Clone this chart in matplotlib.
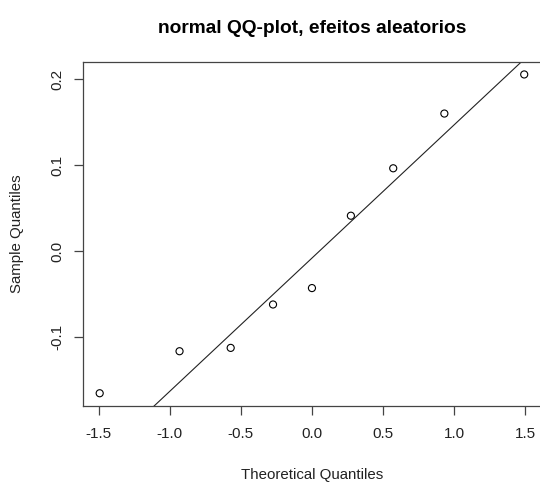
import matplotlib
matplotlib.use('Agg')
import matplotlib.pyplot as plt
import numpy as np
from statistics import NormalDist

plt.rcParams['font.family'] = ['Liberation Sans', 'DejaVu Sans']
plt.rcParams['axes.unicode_minus'] = False

# theoretical normal quantiles (n = 9) and the sorted random effects
theoretical = [-1.494, -0.932, -0.572, -0.274, 0.0, 0.274, 0.572, 0.932, 1.494]
sample = [-0.1655, -0.1166, -0.1127, -0.0622, -0.0431, 0.0411, 0.0963, 0.1600, 0.2055]

xticks = [-1.5, -1.0, -0.5, 0.0, 0.5, 1.0, 1.5]
yticks = [-0.1, 0.0, 0.1, 0.2]

x = np.array(theoretical)
y = np.array(sample)

# line through the first and third quartiles, as qqline does
q1, q3 = np.quantile(y, [0.25, 0.75])
z1, z3 = NormalDist().inv_cdf(0.25), NormalDist().inv_cdf(0.75)
slope = (q3 - q1) / (z3 - z1)
intercept = q1 - slope * z1

W, H = 540, 482
fig = plt.figure(figsize=(W / 100, H / 100), dpi=100)
ax = fig.add_axes([82.7 / W, 76 / H, 458.5 / W, 344.3 / H])

ax.scatter(x, y, s=26, facecolors='none', edgecolors='black', linewidths=0.8, zorder=3)

xr = x.max() - x.min()
yr = y.max() - y.min()
xlim = (x.min() - 0.04 * xr, x.max() + 0.04 * xr)
ylim = (y.min() - 0.04 * yr, y.max() + 0.04 * yr)
xs = np.array([xlim[0] - 1, xlim[1] + 1])
ax.plot(xs, intercept + slope * xs, color='#222222', lw=0.8)
ax.set_xlim(xlim)
ax.set_ylim(ylim)

ax.set_xticks(xticks)
ax.set_xticklabels(['%.1f' % t for t in xticks])
ax.set_yticks(yticks)
ax.set_yticklabels(['%.1f' % t for t in yticks])

for s in ax.spines.values():
    s.set_color('#444444')
    s.set_linewidth(0.9)

ax.tick_params(axis='both', length=6.5, width=0.9, color='#444444',
               labelsize=11, labelcolor='#222222')
ax.tick_params(axis='x', pad=8.5)
ax.tick_params(axis='y', pad=6.5, labelrotation=90)
for lab in ax.get_yticklabels():
    lab.set_va('center')

fig.text(312 / W, 1 - 33 / H, 'normal QQ-plot, efeitos aleatorios',
         ha='center', va='baseline', fontsize=13.8, fontweight='bold')
fig.text(312 / W, 2.5 / H, 'Theoretical Quantiles',
         ha='center', va='baseline', fontsize=10.8, color='#222222')
fig.text(17 / W, 1 - 234 / H, 'Sample Quantiles',
         ha='center', va='center', rotation=90, fontsize=10.8, color='#222222')

fig.savefig('out.png', dpi=100)
